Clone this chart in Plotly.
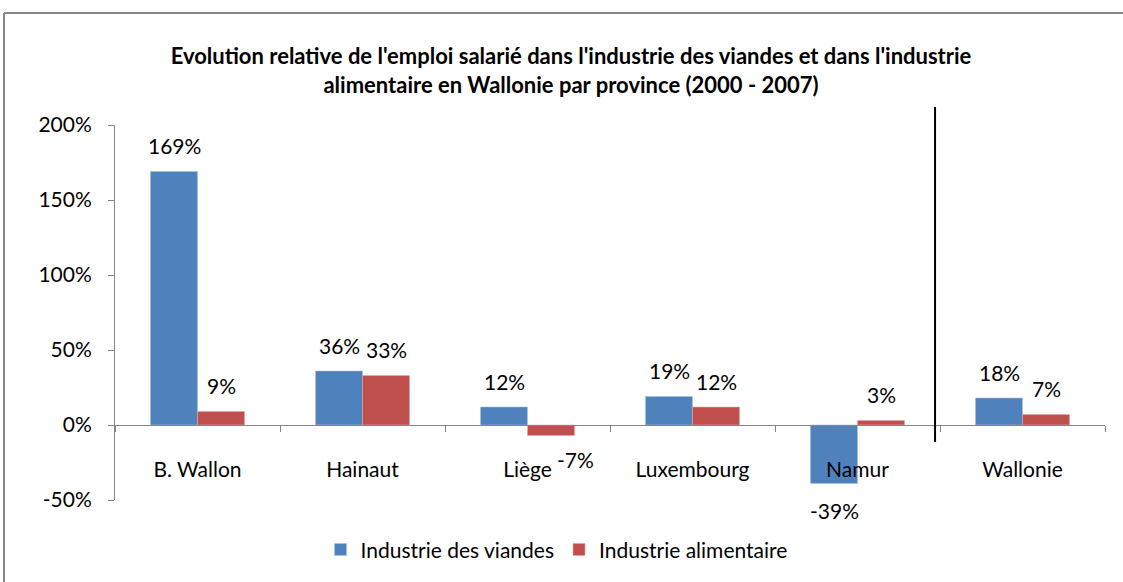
import plotly.graph_objects as go

categories = ["B. Wallon", "Hainaut", "Liège", "Luxembourg", "Namur", "Wallonie"]
viandes = [169, 36, 12, 19, -39, 18]
alimentaire = [9, 33, -7, 12, 3, 7]
series_names = ["Industrie des viandes", "Industrie alimentaire"]
y_ticks = [-50, 0, 50, 100, 150, 200]

BLUE = "#4F81BD"
RED = "#C0504D"
AXIS = "#868686"
FONT = "Lato"
FS = 21

fig = go.Figure()
fig.add_trace(go.Bar(x=categories, y=viandes, name=series_names[0],
                     marker=dict(color=BLUE, line=dict(color="#A7C0DE", width=0.6))))
fig.add_trace(go.Bar(x=categories, y=alimentaire, name=series_names[1],
                     marker=dict(color=RED, line=dict(color="#E0A8A6", width=0.6))))

annotations = []
for vals, shift in ((viandes, -23.5), (alimentaire, 23.5)):
    for c, v in zip(categories, vals):
        extra_x = 0
        if v < 0 and c == "Liège":
            extra_x = 24
        annotations.append(dict(
            x=c, y=v, xref="x", yref="y", text=f"{v}%", showarrow=False,
            xshift=shift + extra_x,
            yshift=26 if v >= 0 else (-24 if c == "Liège" else -27),
            yanchor="middle",
            font=dict(family=FONT, size=FS, color="black")))

px = lambda p: (p - 115) / 990
py = lambda p: (500 - p) / 375

fig.update_layout(
    width=1123, height=582,
    margin=dict(l=115, r=18, t=125, b=82),
    paper_bgcolor="white", plot_bgcolor="white",
    barmode="group", bargap=0.43, bargroupgap=0,
    font=dict(family=FONT, size=FS, color="black"),
    title=dict(
        text="<b>Evolution relative de l'emploi salarié dans l'industrie des viandes et dans l'industrie<br>alimentaire en Wallonie par province (2000 - 2007)</b>",
        x=571 / 1123, xref="container", xanchor="center",
        y=1 - 64 / 582, yref="container", yanchor="middle",
        font=dict(family=FONT, size=22, color="black")),
    xaxis=dict(
        anchor="free", position=0.2,
        showline=True, linecolor=AXIS, linewidth=1,
        ticks="outside", tickson="boundaries", ticklen=6, tickcolor=AXIS,
        ticklabelstandoff=26,
        tickfont=dict(family=FONT, size=FS, color="black"),
        showgrid=False, zeroline=False),
    yaxis=dict(
        range=[-50, 200], tickvals=y_ticks,
        ticktext=[f"{v}%" for v in y_ticks],
        showline=True, linecolor=AXIS, linewidth=1,
        ticks="outside", ticklen=6, tickcolor=AXIS,
        ticklabelstandoff=12,
        showgrid=False, zeroline=False,
        tickfont=dict(family=FONT, size=FS, color="black")),
    legend=dict(orientation="h", x=0.446, xanchor="center",
                y=-0.133, yanchor="middle",
                font=dict(family=FONT, size=FS, color="black"),
                itemwidth=30, traceorder="normal"),
    annotations=annotations,
    shapes=[
        dict(type="line", xref="x", yref="paper", x0=4.47, x1=4.47,
             y0=0.155, y1=1.048, line=dict(color="black", width=2)),
        dict(type="line", xref="paper", yref="paper",
             x0=px(4), x1=px(1125), y0=py(13), y1=py(13),
             line=dict(color="#878787", width=2)),
        dict(type="line", xref="paper", yref="paper",
             x0=px(4), x1=px(4), y0=py(13), y1=py(584),
             line=dict(color="#878787", width=2)),
    ],
)

fig.write_html("out.html", config={"displayModeBar": False},
               post_script="document.body.style.margin='0';")
